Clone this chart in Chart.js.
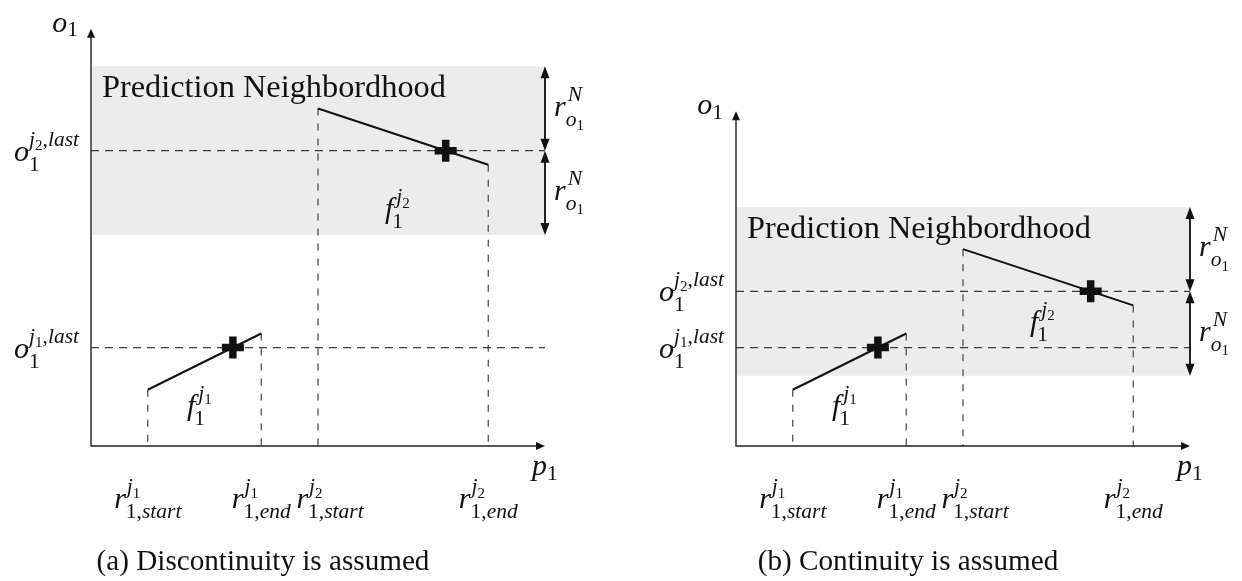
<!DOCTYPE html>
<html><head><meta charset="utf-8">
<script src="https://cdn.jsdelivr.net/npm/chart.js@4.4.1/dist/chart.umd.min.js"></script>
<style>
html,body{margin:0;padding:0;background:#fff;width:1242px;height:581px;overflow:hidden;}
canvas{position:absolute;top:0;}
#ca{left:0;} #cb{left:645px;}
</style></head><body>
<canvas id="ca" width="645" height="581"></canvas>
<canvas id="cb" width="597" height="581"></canvas>
<script>
// ---------- data ----------
const rTicks = [1, 3, 4, 7];            // r1start(j1), r1end(j1), r1start(j2), r1end(j2)
const seg1X = [1, 3], seg1Y = [1, 2];    // f1^{j1}
const seg2X = [4, 7];                    // f1^{j2}
const seg2YA = [6, 5], seg2YB = [3.5, 2.5];
const last1 = [2.5, 1.75];               // o1^{j1,last}
const last2A = [6.25, 5.25], last2B = [6.25, 2.75]; // o1^{j2,last}
const nbRadius = 1.5;                    // r_{o1}^N
const xAxisEnd = 8;
const yAxisEndA = 7.42, yAxisEndB = 5.95;
const captions = ['(a) Discontinuity is assumed', '(b) Continuity is assumed'];
const nbLabel = 'Prediction Neighbordhood';

// ---------- math label specs ----------
const L = {
  o1: {base:[['o','i']], sub:[['1','u']]},
  p1: {base:[['p','i']], sub:[['1','u']]},
  oLast1: {base:[['o','i']], sub:[['1','u']], sup:[['j','i'],['1','s'],[',','u'],['last','i']]},
  oLast2: {base:[['o','i']], sub:[['1','u']], sup:[['j','i'],['2','s'],[',','u'],['last','i']]},
  rN: {base:[['r','i']], sub:[['o','i'],['1','s']], sup:[['N','i']], supKern:2},
  f1: {base:[['f','i']], sub:[['1','u']], sup:[['j','i'],['1','s']], supKern:3, subKern:-1},
  f2: {base:[['f','i']], sub:[['1','u']], sup:[['j','i'],['2','s']], supKern:3, subKern:-1},
  t0: {base:[['r','i']], sub:[['1','u'],[',','u'],['start','i']], sup:[['j','i'],['1','s']], supKern:1},
  t1: {base:[['r','i']], sub:[['1','u'],[',','u'],['end','i']], sup:[['j','i'],['1','s']], supKern:1},
  t2: {base:[['r','i']], sub:[['1','u'],[',','u'],['start','i']], sup:[['j','i'],['2','s']], supKern:1},
  t3: {base:[['r','i']], sub:[['1','u'],[',','u'],['end','i']], sup:[['j','i'],['2','s']], supKern:1}
};
const FAM = '"Liberation Serif", "Times New Roman", serif';
const S = 30, s = 21.5, ss = 15;

function setFont(ctx, style, size){
  ctx.font = (style === 'i' ? 'italic ' : '') + size + 'px ' + FAM;
}
function runsW(ctx, runs, size){
  let w = 0;
  for (const [t, st] of runs){ const sz = st === 's' ? ss : size; setFont(ctx, st === 's' ? 'u' : st, sz); w += ctx.measureText(t).width; }
  return w;
}
function drawRuns(ctx, runs, x, y, size){
  for (const [t, st] of runs){
    const sz = st === 's' ? ss : size;
    setFont(ctx, st === 's' ? 'u' : st, sz);
    ctx.fillText(t, x, st === 's' ? y + 4.5 : y);
    x += ctx.measureText(t).width;
  }
  return x;
}
function mathW(ctx, m){
  const bw = runsW(ctx, m.base, S);
  const sw = m.sub ? runsW(ctx, m.sub, s) + (m.subKern||0) : 0;
  const pw = m.sup ? runsW(ctx, m.sup, s) + (m.supKern||0) : 0;
  return bw + Math.max(sw, pw);
}
function drawMath(ctx, m, x, y, align){
  const w = mathW(ctx, m);
  if (align === 'center') x -= w/2; else if (align === 'right') x -= w;
  ctx.textAlign = 'left'; ctx.textBaseline = 'alphabetic'; ctx.fillStyle = '#111';
  const bx = drawRuns(ctx, m.base, x, y, S);
  if (m.sub) drawRuns(ctx, m.sub, bx + (m.subKern||0), y + (m.sup ? 10 : 4.5), s);
  if (m.sup) drawRuns(ctx, m.sup, bx + (m.supKern||0), y - 15, s);
}
function fitSize(ctx, text, width){
  ctx.font = '30px ' + FAM;
  return 30 * width / ctx.measureText(text).width;
}
function arrowHead(ctx, x, y, dx, dy, len, hw){
  const nx = -dy, ny = dx;
  ctx.beginPath();
  ctx.moveTo(x, y);
  ctx.lineTo(x - dx*len + nx*hw, y - dy*len + ny*hw);
  ctx.lineTo(x - dx*len - nx*hw, y - dy*len - ny*hw);
  ctx.closePath(); ctx.fill();
}

function makePanel(id, idx, seg2Y, last2, yAxisEnd, f2Pos){
  const canvas = document.getElementById(id);
  const W = canvas.width;
  const boxTop = last2[1] + nbRadius, boxBot = last2[1] - nbRadius;
  const pt = (xs, ys) => xs.map((x, i) => ({x, y: ys[i]}));
  const line = (data, extra) => Object.assign({type:'scatter', data, showLine:true, borderColor:'#111', borderWidth:2, pointRadius:0, fill:false}, extra||{});
  const vTops = [seg1Y[0], seg1Y[1], seg2Y[0], seg2Y[1]];
  const cross = {showLine:false, pointStyle:'cross', pointRadius:11, borderWidth:7.5, borderColor:'#111'};
  const datasets = [
    line([{x:last1[0], y:last1[1]}], cross),
    line([{x:last2[0], y:last2[1]}], cross),
    line(pt(seg1X, seg1Y)),
    line(pt(seg2X, seg2Y)),
    line([{x:0, y:last1[1]}, {x:xAxisEnd, y:last1[1]}], {borderColor:'#3a3a3a', borderWidth:1.2, borderDash:[8,6]}),
    line([{x:0, y:last2[1]}, {x:xAxisEnd, y:last2[1]}], {borderColor:'#3a3a3a', borderWidth:1.2, borderDash:[8,6]}),
    ...rTicks.map((t, i) => line([{x:t, y:vTops[i]}, {x:t, y:0}], {borderColor:'#444', borderWidth:1.2, borderDash:[7,8]})),
    line([{x:0, y:boxTop}, {x:xAxisEnd, y:boxTop}], {borderWidth:0, borderColor:'rgba(0,0,0,0)', backgroundColor:'#ececec', fill:{value:boxBot}, order:10})
  ];
  const yMax = 7.6, unit = 57, x0 = 91, xEndPx = 545, y0 = 446;
  const deco = {
    id:'deco'+idx,
    afterDatasetsDraw(chart){
      const ctx = chart.ctx, xs = chart.scales.x, ys = chart.scales.y;
      const px = v => xs.getPixelForValue(v), py = v => ys.getPixelForValue(v);
      ctx.save();
      // axes
      ctx.strokeStyle = '#222'; ctx.fillStyle = '#111'; ctx.lineWidth = 1.4;
      ctx.beginPath();
      ctx.moveTo(px(0), py(yAxisEnd) + 7); ctx.lineTo(px(0), py(0));
      ctx.lineTo(px(xAxisEnd) - 7, py(0)); ctx.stroke();
      arrowHead(ctx, px(0), py(yAxisEnd), 0, -1, 9, 4);
      arrowHead(ctx, px(xAxisEnd), py(0), 1, 0, 9, 4);
      // double arrows
      const ax = px(xAxisEnd);
      ctx.lineWidth = 2;
      const yt = py(boxTop), yc = py(last2[1]), yb = py(boxBot);
      ctx.beginPath();
      ctx.moveTo(ax, yt + 10); ctx.lineTo(ax, yc - 10);
      ctx.moveTo(ax, yc + 10); ctx.lineTo(ax, yb - 10);
      ctx.stroke();
      arrowHead(ctx, ax, yt, 0, -1, 12, 4.5);
      arrowHead(ctx, ax, yc, 0, 1, 12, 4.5);
      arrowHead(ctx, ax, yc, 0, -1, 12, 4.5);
      arrowHead(ctx, ax, yb, 0, 1, 12, 4.5);
      // texts
      ctx.fillStyle = '#111'; ctx.textBaseline = 'alphabetic';
      const nbSize = fitSize(ctx, nbLabel, 344);
      ctx.font = nbSize + 'px ' + FAM; ctx.textAlign = 'left';
      ctx.fillText(nbLabel, px(0) + 11, yt + 31);
      const capSize = fitSize(ctx, captions[0], 333);
      ctx.font = capSize + 'px ' + FAM; ctx.textAlign = 'center';
      ctx.fillText(captions[idx], px(0) + 172, 570);
      drawMath(ctx, L.rN, ax + 9, (yt + yc)/2 + 7, 'left');
      drawMath(ctx, L.rN, ax + 9, (yc + yb)/2 + 7, 'left');
      drawMath(ctx, L.oLast2, px(0) - 12, py(last2[1]) + 10, 'right');
      drawMath(ctx, L.oLast1, px(0) - 12, py(last1[1]) + 10, 'right');
      drawMath(ctx, L.o1, px(0) - 13, py(yAxisEnd) + 3, 'right');
      drawMath(ctx, L.p1, px(xAxisEnd) - 13, py(0) + 29, 'left');
      drawMath(ctx, L.f1, px(1.69), py(0.56), 'left');
      drawMath(ctx, L.f2, px(f2Pos[0]), py(f2Pos[1]), 'left');
      const tl = [L.t0, L.t1, L.t2, L.t3];
      rTicks.forEach((t, i) => drawMath(ctx, tl[i], px(t) + (i === 2 ? 12 : 0), py(0) + 62, 'center'));
      ctx.restore();
    }
  };
  return new Chart(canvas, {
    type:'scatter',
    data:{datasets},
    options:{
      responsive:false, animation:false, events:[],
      layout:{padding:{left:x0, right:W - xEndPx, top:y0 - yMax*unit, bottom:581 - y0}},
      scales:{
        x:{type:'linear', min:0, max:xAxisEnd, display:false},
        y:{type:'linear', min:0, max:yMax, display:false}
      },
      plugins:{legend:{display:false}, tooltip:{enabled:false}, title:{display:false}}
    },
    plugins:[deco]
  });
}
makePanel('ca', 0, seg2YA, last2A, yAxisEndA, [5.18, 4.05]);
makePanel('cb', 1, seg2YB, last2B, yAxisEndB, [5.18, 2.05]);
</script>
</body></html>
